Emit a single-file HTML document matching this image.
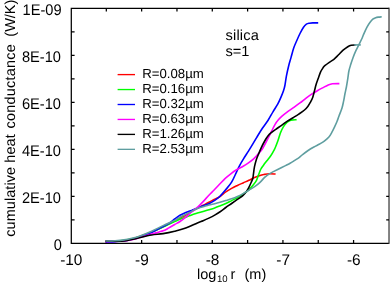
<!DOCTYPE html>
<html><head><meta charset="utf-8"><title>chart</title>
<style>
html,body{margin:0;padding:0;background:#fff;}
body{width:390px;height:285px;overflow:hidden;}
svg{display:block;font-family:"Liberation Sans",sans-serif;will-change:transform;}
text{text-rendering:geometricPrecision;}
</style></head><body>
<svg width="390" height="285" viewBox="0 0 390 285">
<rect x="0" y="0" width="390" height="285" fill="#fff"/>
<rect x="388.05" y="7.625" width="3" height="236.3" fill="#808080"/>
<path d="M388.8,8.25 H71.3 V243.3 H388.8 M106.32,243.3 v-3.3 M106.32,8.25 v3.3 M141.64,243.3 v-3.3 M141.64,8.25 v3.3 M176.97,243.3 v-3.3 M176.97,8.25 v3.3 M212.29,243.3 v-3.3 M212.29,8.25 v3.3 M247.61,243.3 v-3.3 M247.61,8.25 v3.3 M282.93,243.3 v-3.3 M282.93,8.25 v3.3 M318.26,243.3 v-3.3 M318.26,8.25 v3.3 M353.58,243.3 v-3.3 M353.58,8.25 v3.3 M71.3,219.80 h3.3 M389.0,219.80 h-2.8 M71.3,196.29 h3.3 M389.0,196.29 h-2.8 M71.3,172.78 h3.3 M389.0,172.78 h-2.8 M71.3,149.28 h3.3 M389.0,149.28 h-2.8 M71.3,125.78 h3.3 M389.0,125.78 h-2.8 M71.3,102.27 h3.3 M389.0,102.27 h-2.8 M71.3,78.76 h3.3 M389.0,78.76 h-2.8 M71.3,55.26 h3.3 M389.0,55.26 h-2.8 M71.3,31.75 h3.3 M389.0,31.75 h-2.8" fill="none" stroke="#000" stroke-width="1.25" stroke-linejoin="miter"/>
<g fill="none" stroke-width="1.6" stroke-linejoin="round" stroke-linecap="butt">
<path stroke="#ff0000" d="M105.60,241.60 C107.17,241.57 111.93,241.55 115.00,241.40 C118.07,241.25 121.00,241.15 124.00,240.70 C127.00,240.25 130.33,239.42 133.00,238.70 C135.67,237.98 136.90,237.52 140.00,236.40 C143.10,235.28 147.75,233.63 151.60,232.00 C155.45,230.37 159.25,228.47 163.10,226.60 C166.95,224.73 171.05,222.65 174.70,220.80 C178.35,218.95 182.18,217.08 185.00,215.50 C187.82,213.92 189.53,212.50 191.60,211.30 C193.67,210.10 195.48,209.30 197.40,208.30 C199.32,207.30 201.18,206.32 203.10,205.30 C205.02,204.28 206.97,203.20 208.90,202.20 C210.83,201.20 212.85,200.25 214.70,199.30 C216.55,198.35 218.15,197.73 220.00,196.50 C221.85,195.27 223.87,193.25 225.80,191.90 C227.73,190.55 229.67,189.47 231.60,188.40 C233.53,187.33 235.48,186.42 237.40,185.50 C239.32,184.58 241.18,183.77 243.10,182.90 C245.02,182.03 247.10,181.15 248.90,180.30 C250.70,179.45 252.05,178.62 253.90,177.80 C255.75,176.98 258.22,175.97 260.00,175.40 C261.78,174.83 263.05,174.67 264.60,174.40 C266.15,174.13 267.47,173.87 269.30,173.80 C271.13,173.73 274.55,173.97 275.60,174.00"/>
<path stroke="#00ff00" d="M105.60,241.20 C107.17,241.17 111.93,241.15 115.00,241.00 C118.07,240.85 121.00,240.70 124.00,240.30 C127.00,239.90 130.33,239.23 133.00,238.60 C135.67,237.97 136.90,237.57 140.00,236.50 C143.10,235.43 147.75,233.80 151.60,232.20 C155.45,230.60 159.25,228.67 163.10,226.90 C166.95,225.13 171.80,222.93 174.70,221.60 C177.60,220.27 178.65,219.63 180.50,218.90 C182.35,218.17 183.95,217.87 185.80,217.20 C187.65,216.53 189.67,215.58 191.60,214.90 C193.53,214.22 195.48,213.68 197.40,213.10 C199.32,212.52 201.18,211.97 203.10,211.40 C205.02,210.83 206.97,210.28 208.90,209.70 C210.83,209.12 212.85,208.53 214.70,207.90 C216.55,207.27 218.15,206.63 220.00,205.90 C221.85,205.17 223.87,204.38 225.80,203.50 C227.73,202.62 229.67,201.57 231.60,200.60 C233.53,199.63 235.48,198.77 237.40,197.70 C239.32,196.63 241.18,195.55 243.10,194.20 C245.02,192.85 247.15,191.23 248.90,189.60 C250.65,187.97 252.33,185.95 253.60,184.40 C254.87,182.85 255.67,181.90 256.50,180.30 C257.33,178.70 257.87,176.68 258.60,174.80 C259.33,172.92 260.08,170.60 260.90,169.00 C261.72,167.40 262.50,166.57 263.50,165.20 C264.50,163.83 265.75,162.28 266.90,160.80 C268.05,159.32 269.43,157.67 270.40,156.30 C271.37,154.93 271.92,153.98 272.70,152.60 C273.48,151.22 274.22,150.02 275.10,148.00 C275.98,145.98 277.10,143.03 278.00,140.50 C278.90,137.97 279.58,135.12 280.50,132.80 C281.42,130.48 282.38,128.37 283.50,126.60 C284.62,124.83 285.98,123.28 287.20,122.20 C288.42,121.12 289.23,120.50 290.80,120.10 C292.37,119.70 295.63,119.85 296.60,119.80"/>
<path stroke="#0000ff" d="M105.60,242.00 C107.17,241.93 111.93,241.78 115.00,241.60 C118.07,241.42 121.00,241.33 124.00,240.90 C127.00,240.47 130.33,239.68 133.00,239.00 C135.67,238.32 136.90,237.90 140.00,236.80 C143.10,235.70 147.75,234.12 151.60,232.40 C155.45,230.68 160.22,228.00 163.10,226.50 C165.98,225.00 166.97,224.65 168.90,223.40 C170.83,222.15 172.85,220.35 174.70,219.00 C176.55,217.65 178.15,216.38 180.00,215.30 C181.85,214.22 183.87,213.30 185.80,212.50 C187.73,211.70 189.67,211.23 191.60,210.50 C193.53,209.77 195.48,208.88 197.40,208.10 C199.32,207.32 201.18,206.53 203.10,205.80 C205.02,205.07 206.97,204.60 208.90,203.70 C210.83,202.80 212.85,201.65 214.70,200.40 C216.55,199.15 218.15,198.00 220.00,196.20 C221.85,194.40 223.87,191.93 225.80,189.60 C227.73,187.27 229.80,185.17 231.60,182.20 C233.40,179.23 235.20,174.70 236.60,171.80 C238.00,168.90 238.85,166.97 240.00,164.80 C241.15,162.63 242.15,161.00 243.50,158.80 C244.85,156.60 246.92,153.47 248.10,151.60 C249.28,149.73 249.18,149.93 250.60,147.60 C252.02,145.27 254.63,140.82 256.60,137.60 C258.57,134.38 260.48,131.20 262.40,128.30 C264.32,125.40 266.32,122.98 268.10,120.20 C269.88,117.42 271.50,114.28 273.10,111.60 C274.70,108.92 276.35,106.60 277.70,104.10 C279.05,101.60 280.23,98.82 281.20,96.60 C282.17,94.38 282.88,92.65 283.50,90.80 C284.12,88.95 284.42,87.95 284.90,85.50 C285.38,83.05 285.77,79.40 286.40,76.10 C287.03,72.80 287.93,68.78 288.70,65.70 C289.47,62.62 290.17,60.55 291.00,57.60 C291.83,54.65 292.77,50.77 293.70,48.00 C294.63,45.23 295.55,43.42 296.60,41.00 C297.65,38.58 298.85,35.80 300.00,33.50 C301.15,31.20 302.43,28.75 303.50,27.20 C304.57,25.65 305.43,24.87 306.40,24.20 C307.37,23.53 308.23,23.42 309.30,23.20 C310.37,22.98 311.32,22.95 312.80,22.90 C314.28,22.85 317.30,22.90 318.20,22.90"/>
<path stroke="#ff00ff" d="M105.60,241.40 C107.17,241.38 111.93,241.37 115.00,241.30 C118.07,241.23 121.00,241.32 124.00,241.00 C127.00,240.68 130.33,239.98 133.00,239.40 C135.67,238.82 136.90,238.38 140.00,237.50 C143.10,236.62 147.75,235.22 151.60,234.10 C155.45,232.98 160.22,231.83 163.10,230.80 C165.98,229.77 166.97,228.95 168.90,227.90 C170.83,226.85 172.85,225.57 174.70,224.50 C176.55,223.43 178.15,222.72 180.00,221.50 C181.85,220.28 183.87,218.78 185.80,217.20 C187.73,215.62 189.67,213.63 191.60,212.00 C193.53,210.37 195.48,209.13 197.40,207.40 C199.32,205.67 201.18,203.63 203.10,201.60 C205.02,199.57 207.07,197.13 208.90,195.20 C210.73,193.27 212.25,191.90 214.10,190.00 C215.95,188.10 218.18,185.70 220.00,183.80 C221.82,181.90 223.20,180.27 225.00,178.60 C226.80,176.93 228.87,175.27 230.80,173.80 C232.73,172.33 234.67,170.98 236.60,169.80 C238.53,168.62 240.48,167.80 242.40,166.70 C244.32,165.60 246.18,164.55 248.10,163.20 C250.02,161.85 251.97,160.43 253.90,158.60 C255.83,156.77 258.20,153.97 259.70,152.20 C261.20,150.43 261.50,150.35 262.90,148.00 C264.30,145.65 266.65,140.90 268.10,138.10 C269.55,135.30 270.43,133.50 271.60,131.20 C272.77,128.90 273.93,126.23 275.10,124.30 C276.27,122.37 277.45,120.95 278.60,119.60 C279.75,118.25 280.53,117.48 282.00,116.20 C283.47,114.92 285.55,113.28 287.40,111.90 C289.25,110.52 291.00,109.40 293.10,107.90 C295.20,106.40 297.88,104.50 300.00,102.90 C302.12,101.30 303.87,99.75 305.80,98.30 C307.73,96.85 309.67,95.47 311.60,94.20 C313.53,92.93 315.48,91.80 317.40,90.70 C319.32,89.60 321.37,88.52 323.10,87.60 C324.83,86.68 326.25,85.83 327.80,85.20 C329.35,84.57 330.47,84.07 332.40,83.80 C334.33,83.53 338.23,83.63 339.40,83.60"/>
<path stroke="#000000" d="M105.60,241.30 C107.17,241.30 111.93,241.35 115.00,241.30 C118.07,241.25 121.00,241.33 124.00,241.00 C127.00,240.67 130.33,239.88 133.00,239.30 C135.67,238.72 136.90,238.22 140.00,237.50 C143.10,236.78 147.75,235.65 151.60,235.00 C155.45,234.35 159.25,234.23 163.10,233.60 C166.95,232.97 171.05,232.08 174.70,231.20 C178.35,230.32 181.22,229.68 185.00,228.30 C188.78,226.92 194.38,224.17 197.40,222.90 C200.42,221.63 201.18,221.50 203.10,220.70 C205.02,219.90 206.97,219.03 208.90,218.10 C210.83,217.17 212.77,216.20 214.70,215.10 C216.63,214.00 218.65,212.77 220.50,211.50 C222.35,210.23 223.95,208.83 225.80,207.50 C227.65,206.17 229.67,204.85 231.60,203.50 C233.53,202.15 235.48,200.75 237.40,199.40 C239.32,198.05 241.57,196.75 243.10,195.40 C244.63,194.05 245.63,192.65 246.60,191.30 C247.57,189.95 248.12,188.83 248.90,187.30 C249.68,185.77 250.65,183.57 251.30,182.10 C251.95,180.63 252.43,179.92 252.80,178.50 C253.17,177.08 253.22,175.57 253.50,173.60 C253.78,171.63 254.03,169.02 254.50,166.70 C254.97,164.38 255.62,161.83 256.30,159.70 C256.98,157.57 257.77,155.92 258.60,153.90 C259.43,151.88 260.28,149.75 261.30,147.60 C262.32,145.45 263.57,142.97 264.70,141.00 C265.83,139.03 266.95,137.23 268.10,135.80 C269.25,134.37 270.32,133.48 271.60,132.40 C272.88,131.32 274.13,130.48 275.80,129.30 C277.47,128.12 279.67,126.65 281.60,125.30 C283.53,123.95 285.48,122.47 287.40,121.20 C289.32,119.93 291.20,118.88 293.10,117.70 C295.00,116.52 296.90,115.38 298.80,114.10 C300.70,112.82 303.00,111.28 304.50,110.00 C306.00,108.72 306.83,107.67 307.80,106.40 C308.77,105.13 309.48,103.90 310.30,102.40 C311.12,100.90 312.00,99.35 312.70,97.40 C313.40,95.45 313.93,92.87 314.50,90.70 C315.07,88.53 315.48,86.43 316.10,84.40 C316.72,82.37 317.47,80.55 318.20,78.50 C318.93,76.45 319.70,73.88 320.50,72.10 C321.30,70.32 322.28,68.87 323.00,67.80 C323.72,66.73 323.75,66.62 324.80,65.70 C325.85,64.78 327.78,63.35 329.30,62.30 C330.82,61.25 332.37,60.65 333.90,59.40 C335.43,58.15 336.97,56.33 338.50,54.80 C340.03,53.27 341.55,51.55 343.10,50.20 C344.65,48.85 346.45,47.53 347.80,46.70 C349.15,45.87 349.92,45.50 351.20,45.20 C352.48,44.90 354.78,44.95 355.50,44.90"/>
<path stroke="#5f9ea0" d="M105.60,241.00 C107.17,240.95 111.93,240.88 115.00,240.70 C118.07,240.52 121.00,240.35 124.00,239.90 C127.00,239.45 130.33,238.65 133.00,238.00 C135.67,237.35 136.90,237.13 140.00,236.00 C143.10,234.87 147.75,232.93 151.60,231.20 C155.45,229.47 159.25,227.40 163.10,225.60 C166.95,223.80 171.88,221.80 174.70,220.40 C177.52,219.00 178.15,218.22 180.00,217.20 C181.85,216.18 183.87,215.27 185.80,214.30 C187.73,213.33 189.67,212.37 191.60,211.40 C193.53,210.43 195.48,209.27 197.40,208.50 C199.32,207.73 201.18,207.38 203.10,206.80 C205.02,206.22 206.97,205.52 208.90,205.00 C210.83,204.48 212.85,204.15 214.70,203.70 C216.55,203.25 218.15,202.82 220.00,202.30 C221.85,201.78 223.87,201.18 225.80,200.60 C227.73,200.02 229.67,199.48 231.60,198.80 C233.53,198.12 235.48,197.37 237.40,196.50 C239.32,195.63 241.18,194.65 243.10,193.60 C245.02,192.55 246.97,191.35 248.90,190.20 C250.83,189.05 252.85,188.00 254.70,186.70 C256.55,185.40 258.35,183.95 260.00,182.40 C261.65,180.85 263.05,178.83 264.60,177.40 C266.15,175.97 267.75,174.80 269.30,173.80 C270.85,172.80 272.17,172.28 273.90,171.40 C275.63,170.52 277.77,169.47 279.70,168.50 C281.63,167.53 283.77,166.47 285.50,165.60 C287.23,164.73 288.57,164.17 290.10,163.30 C291.63,162.43 293.15,161.40 294.70,160.40 C296.25,159.40 298.03,158.32 299.40,157.30 C300.77,156.28 301.45,155.43 302.90,154.30 C304.35,153.17 306.27,151.72 308.10,150.50 C309.93,149.28 311.97,148.08 313.90,147.00 C315.83,145.92 317.97,144.98 319.70,144.00 C321.43,143.02 322.77,142.27 324.30,141.10 C325.83,139.93 327.65,138.45 328.90,137.00 C330.15,135.55 330.83,134.13 331.80,132.40 C332.77,130.67 333.83,128.42 334.70,126.60 C335.57,124.78 336.28,123.27 337.00,121.50 C337.72,119.73 338.17,118.25 339.00,116.00 C339.83,113.75 341.23,110.48 342.00,108.00 C342.77,105.52 343.10,103.52 343.60,101.10 C344.10,98.68 344.53,95.85 345.00,93.50 C345.47,91.15 345.93,89.48 346.40,87.00 C346.87,84.52 347.38,81.27 347.80,78.60 C348.22,75.93 348.42,73.33 348.90,71.00 C349.38,68.67 350.02,66.82 350.70,64.60 C351.38,62.38 352.13,60.02 353.00,57.70 C353.87,55.38 354.93,52.83 355.90,50.70 C356.87,48.57 357.75,47.02 358.80,44.90 C359.85,42.78 361.42,39.72 362.20,38.00 C362.98,36.28 362.70,36.42 363.50,34.60 C364.30,32.78 365.93,29.12 367.00,27.10 C368.07,25.08 368.93,23.82 369.90,22.50 C370.87,21.18 371.83,20.00 372.80,19.20 C373.77,18.40 374.73,18.05 375.70,17.70 C376.67,17.35 377.60,17.25 378.60,17.10 C379.60,16.95 381.18,16.85 381.70,16.80"/>
<path stroke="#5f9ea0" d="M354.20,44.90 L360.80,44.90"/>
</g>
<g font-size="15.4" fill="#000">
<text transform="translate(62.0,249.60) scale(0.95,1)" text-anchor="end">0</text>
<text transform="translate(61.0,202.59) scale(0.95,1)" text-anchor="end">2E-10</text>
<text transform="translate(61.0,155.58) scale(0.95,1)" text-anchor="end">4E-10</text>
<text transform="translate(61.0,108.57) scale(0.95,1)" text-anchor="end">6E-10</text>
<text transform="translate(61.0,61.56) scale(0.95,1)" text-anchor="end">8E-10</text>
<text transform="translate(61.6,14.55) scale(0.95,1)" text-anchor="end">1E-09</text>
<text x="71.25" y="264.85" text-anchor="middle">-10</text>
<text x="141.89" y="264.85" text-anchor="middle">-9</text>
<text x="212.54" y="264.85" text-anchor="middle">-8</text>
<text x="283.18" y="264.85" text-anchor="middle">-7</text>
<text x="353.83" y="264.85" text-anchor="middle">-6</text>
</g>
<g font-size="14.5" transform="translate(15.2,0) rotate(-90)"><text x="-236.8" y="0" letter-spacing="0.07">cumulative heat</text><text x="-128.4" y="0" letter-spacing="0.2">conductance</text><text x="-36.7" y="0">(W/K)</text></g>
<g font-size="14.5"><text x="197" y="278.6">log</text><text x="217.0" y="281.70000000000005" font-size="9.6">10</text><text x="230.5" y="278.6">r</text><text x="244.5" y="278.6">(m)</text></g>
<text font-size="14.6" x="225.5" y="40.1" letter-spacing="0.18">silica</text>
<text font-size="14.6" x="225.5" y="56.2">s=1</text>
<path d="M117.6,74.6 H135.0" stroke="#ff0000" stroke-width="1.35" fill="none"/>
<text font-size="13.2" x="142.3" y="78.0">R=0.08µm</text>
<path d="M117.6,89.55 H135.0" stroke="#00ff00" stroke-width="1.35" fill="none"/>
<text font-size="13.2" x="142.3" y="92.95">R=0.16µm</text>
<path d="M117.6,104.5 H135.0" stroke="#0000ff" stroke-width="1.35" fill="none"/>
<text font-size="13.2" x="142.3" y="107.9">R=0.32µm</text>
<path d="M117.6,119.44999999999999 H135.0" stroke="#ff00ff" stroke-width="1.35" fill="none"/>
<text font-size="13.2" x="142.3" y="122.85">R=0.63µm</text>
<path d="M117.6,134.39999999999998 H135.0" stroke="#000000" stroke-width="1.35" fill="none"/>
<text font-size="13.2" x="142.3" y="137.79999999999998">R=1.26µm</text>
<path d="M117.6,149.35 H135.0" stroke="#5f9ea0" stroke-width="1.35" fill="none"/>
<text font-size="13.2" x="142.3" y="152.75">R=2.53µm</text>
</svg>
</body></html>
